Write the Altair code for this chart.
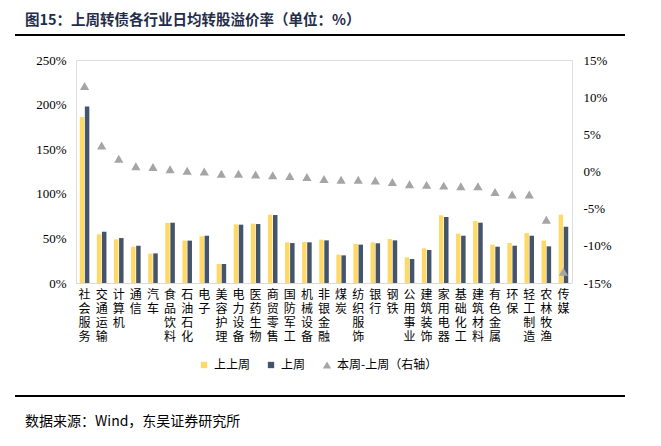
import altair as alt
import pandas as pd

categories = ['社会服务', '交通运输', '计算机', '通信', '汽车', '食品饮料', '石油石化', '电子',
              '美容护理', '电力设备', '医药生物', '商贸零售', '国防军工', '机械设备', '非银金融',
              '煤炭', '纺织服饰', '银行', '钢铁', '公用事业', '建筑装饰', '家用电器', '基础化工',
              '建筑材料', '有色金属', '环保', '轻工制造', '农林牧渔', '传媒']
week_before_last = [186, 54.6, 49, 40.7, 32.9, 67.3, 47.5, 52.3, 21.3, 65.8, 66.5, 76.6, 45.6, 46,
                    48.6, 31.8, 43.7, 45.6, 49.3, 28.8, 38.9, 75.9, 55.3, 69.5, 43, 44.8, 56, 47.5, 76.6]
last_week = [198, 57.5, 50.4, 41.8, 33.2, 67.6, 47.5, 53, 21.3, 65.4, 66.1, 76.2, 44.8, 45.6,
             47.8, 31, 43, 44.5, 47.8, 26.9, 37, 74, 53, 67.6, 40.7, 41.8, 53, 41.1, 63.1]
diff = [11.5, 3.5, 1.7, 0.7, 0.6, 0.3, 0.1, 0.0, -0.3, -0.3, -0.4, -0.5, -0.6, -0.75, -1.0,
        -1.1, -1.1, -1.2, -1.4, -1.7, -1.8, -1.9, -2.0, -2.0, -2.75, -3.1, -3.1, -6.5, -13.5]
series_names = ['上上周', '上周']
diff_name = '本周-上周（右轴）'
left_ticks = [0, 50, 100, 150, 200, 250]
right_ticks = [-15, -10, -5, 0, 5, 10, 15]
title_text = '图15：上周转债各行业日均转股溢价率（单位：%）'
source_text = '数据来源：Wind，东吴证券研究所'

CJK = 'Noto Sans CJK SC'
SERIF = 'Liberation Serif'

bars_df = pd.DataFrame({
    'cat': categories * 2,
    'series': [series_names[0]] * len(categories) + [series_names[1]] * len(categories),
    'value': week_before_last + last_week,
})
diff_df = pd.DataFrame({'cat': categories, 'diff': diff, 'k': [diff_name] * len(categories)})

x_enc = alt.X('cat:N', sort=categories,
              scale=alt.Scale(paddingInner=0.44, paddingOuter=0.22),
              axis=alt.Axis(title=None, labelAngle=0, ticks=False, domainColor='#D9D9D9',
                            domainWidth=1, labelFont=CJK, labelFontSize=12, labelColor='#000000',
                            labelLineHeight=14, labelPadding=6, labelOverlap=False,
                            labelExpr="split(datum.label, '')"))

bars = alt.Chart(bars_df).mark_bar().encode(
    x=x_enc,
    xOffset=alt.XOffset('series:N', sort=series_names, scale=alt.Scale(paddingInner=0.12)),
    y=alt.Y('value:Q', scale=alt.Scale(domain=[0, 250], nice=False),
            axis=alt.Axis(title=None, values=left_ticks, labelExpr="datum.value + '%'",
                          domain=False, ticks=False, grid=False, labelFont=SERIF,
                          labelFontSize=13, labelColor='#000000', labelPadding=10)),
    color=alt.Color('series:N', sort=series_names,
                    scale=alt.Scale(domain=series_names, range=['#FFD966', '#44546A']),
                    legend=alt.Legend(title=None, orient='none', direction='horizontal',
                                      legendX=122, legendY=299, symbolType='square',
                                      symbolSize=40, labelFont=CJK, labelFontSize=12,
                                      labelColor='#000000', columnPadding=14, labelOffset=4)),
)

tris = alt.Chart(diff_df).mark_point(filled=True, opacity=1, size=85, color='#A5A5A5').encode(
    x=alt.X('cat:N', sort=categories),
    y=alt.Y('diff:Q', scale=alt.Scale(domain=[-15, 15], nice=False),
            axis=alt.Axis(title=None, orient='right', values=right_ticks,
                          labelExpr="datum.value + '%'", domain=False, ticks=False, grid=False,
                          labelFont=SERIF, labelFontSize=13, labelColor='#000000',
                          labelPadding=11)),
    shape=alt.Shape('k:N', scale=alt.Scale(domain=[diff_name], range=['triangle-up']),
                    legend=alt.Legend(title=None, orient='none', legendX=245, legendY=299,
                                      symbolSize=70, symbolFillColor='#A5A5A5',
                                      symbolStrokeColor='#A5A5A5', labelFont=CJK,
                                      labelFontSize=12, labelColor='#000000', labelOffset=4)),
)

title = alt.Chart(pd.DataFrame({'t': [title_text]})).mark_text(
    align='left', baseline='middle', font=CJK, fontSize=14.5, fontWeight='bold', color='#1F2D4A'
).encode(text='t:N', x=alt.value(-51), y=alt.value(-39))

source = alt.Chart(pd.DataFrame({'t': [source_text]})).mark_text(
    align='left', baseline='middle', font=CJK, fontSize=14, color='#000000'
).encode(text='t:N', x=alt.value(-51), y=alt.value(362))

top_rule = alt.Chart(pd.DataFrame({'a': [0]})).mark_rule(color='#000000', strokeWidth=2).encode(
    x=alt.value(-61), x2=alt.value(549), y=alt.value(-25))
bottom_rule = alt.Chart(pd.DataFrame({'a': [0]})).mark_rule(color='#000000', strokeWidth=2).encode(
    x=alt.value(-61), x2=alt.value(549), y=alt.value(336))

chart = alt.layer(bars, tris, title, source, top_rule, bottom_rule).resolve_scale(
    y='independent', color='independent', shape='independent'
).properties(
    width=496, height=223,
    autosize=alt.AutoSizeParams(type='none'),
    padding={'left': 76, 'top': 60, 'right': 89, 'bottom': 163},
).configure_view(stroke='transparent').configure(background='#FFFFFF')

chart.save('out.html', embed_options={'renderer': 'svg', 'actions': False})
